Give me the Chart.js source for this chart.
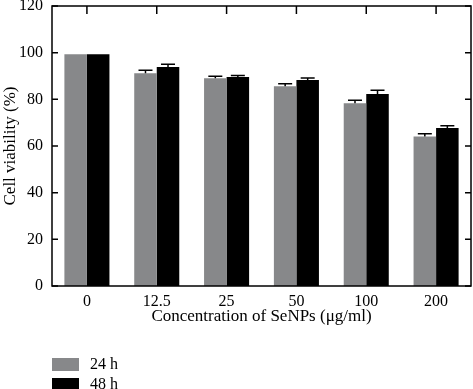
<!DOCTYPE html>
<html>
<head>
<meta charset="utf-8">
<script src="https://cdn.jsdelivr.net/npm/chart.js@4/dist/chart.umd.min.js"></script>
<style>
  html, body { margin: 0; padding: 0; background: #fff; }
  #wrap { position: relative; width: 473px; height: 389px; }
  #legend { position: absolute; left: 52px; top: 354px; font: 16px "Liberation Serif", serif; color: #000; }
  .item { display: flex; align-items: center; height: 20px; }
  .box { width: 27px; height: 13px; margin-right: 11px; }
</style>
</head>
<body>
<div id="wrap">
  <canvas id="chart" width="473" height="389"></canvas>
  <div id="legend"></div>
</div>
<script>
// data
const categories = ["0", "12.5", "25", "50", "100", "200"];
const seriesNames = ["24 h", "48 h"];
const values24 = [99.3, 91.2, 89.0, 85.6, 78.3, 64.1];
const values48 = [99.3, 93.9, 89.6, 88.3, 82.3, 67.7];
const errors24 = [0, 1.3, 0.9, 1.1, 1.3, 1.2];
const errors48 = [0, 1.1, 0.6, 0.8, 1.6, 1.0];
const yTicks = [0, 20, 40, 60, 80, 100, 120];

const colors = ["#87888a", "#000000"];
const serif = "'Liberation Serif', serif";

// error bars (upper only) + frame + inward ticks
const errorBarPlugin = {
  id: "errorBars",
  afterDatasetsDraw(chart) {
    const ctx = chart.ctx;
    const y = chart.scales.y;
    const errs = [errors24, errors48];
    ctx.save();
    ctx.strokeStyle = "#000";
    ctx.lineWidth = 1.5;
    chart.data.datasets.forEach((ds, i) => {
      const meta = chart.getDatasetMeta(i);
      meta.data.forEach((bar, j) => {
        const e = errs[i][j];
        if (!e) return;
        const top = y.getPixelForValue(ds.data[j] + e);
        ctx.beginPath();
        ctx.moveTo(bar.x, bar.y);
        ctx.lineTo(bar.x, top);
        ctx.moveTo(bar.x - 7, top);
        ctx.lineTo(bar.x + 7, top);
        ctx.stroke();
      });
    });
    ctx.restore();
  },
  afterDraw(chart) {
    const ctx = chart.ctx;
    const a = chart.chartArea;
    const x = chart.scales.x;
    const y = chart.scales.y;
    ctx.save();
    ctx.strokeStyle = "#000";
    ctx.lineWidth = 1.5;
    ctx.strokeRect(a.left, a.top, a.right - a.left, a.bottom - a.top);
    ctx.beginPath();
    yTicks.forEach(v => {
      const p = y.getPixelForValue(v);
      ctx.moveTo(a.left, p); ctx.lineTo(a.left + 6, p);
      ctx.moveTo(a.right, p); ctx.lineTo(a.right - 6, p);
    });
    categories.forEach((c, i) => {
      const p = x.getPixelForValue(i);
      ctx.moveTo(p, a.top); ctx.lineTo(p, a.top + 8);
    });
    ctx.stroke();
    ctx.restore();
  }
};

const ctx = document.getElementById("chart").getContext("2d");
new Chart(ctx, {
  type: "bar",
  data: {
    labels: categories,
    datasets: [
      { label: seriesNames[0], data: values24, backgroundColor: colors[0] },
      { label: seriesNames[1], data: values48, backgroundColor: colors[1] }
    ]
  },
  options: {
    responsive: false,
    animation: false,
    layout: { padding: { top: 6, right: 2, bottom: 62, left: 0 } },
    datasets: { bar: { categoryPercentage: 0.645, barPercentage: 1.0 } },
    plugins: {
      legend: { display: false },
      tooltip: { enabled: false }
    },
    scales: {
      x: {
        grid: { display: false, drawTicks: false },
        border: { display: false },
        ticks: { color: "#000", padding: 6, font: { family: serif, size: 16 } },
        title: { display: true, text: "Concentration of SeNPs (μg/ml)", color: "#000", padding: 0, font: { family: serif, size: 17 } },
        afterFit(scale) { scale.height = 41; }
      },
      y: {
        min: 0,
        max: 120,
        grid: { display: false, drawTicks: false },
        border: { display: false },
        ticks: { stepSize: 20, color: "#000", padding: 9, font: { family: serif, size: 16 } },
        title: { display: true, text: "Cell viability (%)", color: "#000", padding: 0, font: { family: serif, size: 17 } },
        afterFit(scale) { scale.width = 52; scale.paddingTop = 0; scale.paddingBottom = 0; }
      }
    }
  },
  plugins: [errorBarPlugin]
});

// legend below the plot
const legend = document.getElementById("legend");
seriesNames.forEach((name, i) => {
  const row = document.createElement("div");
  row.className = "item";
  const box = document.createElement("span");
  box.className = "box";
  box.style.background = colors[i];
  const label = document.createElement("span");
  label.textContent = name;
  row.appendChild(box);
  row.appendChild(label);
  legend.appendChild(row);
});
</script>
</body>
</html>
